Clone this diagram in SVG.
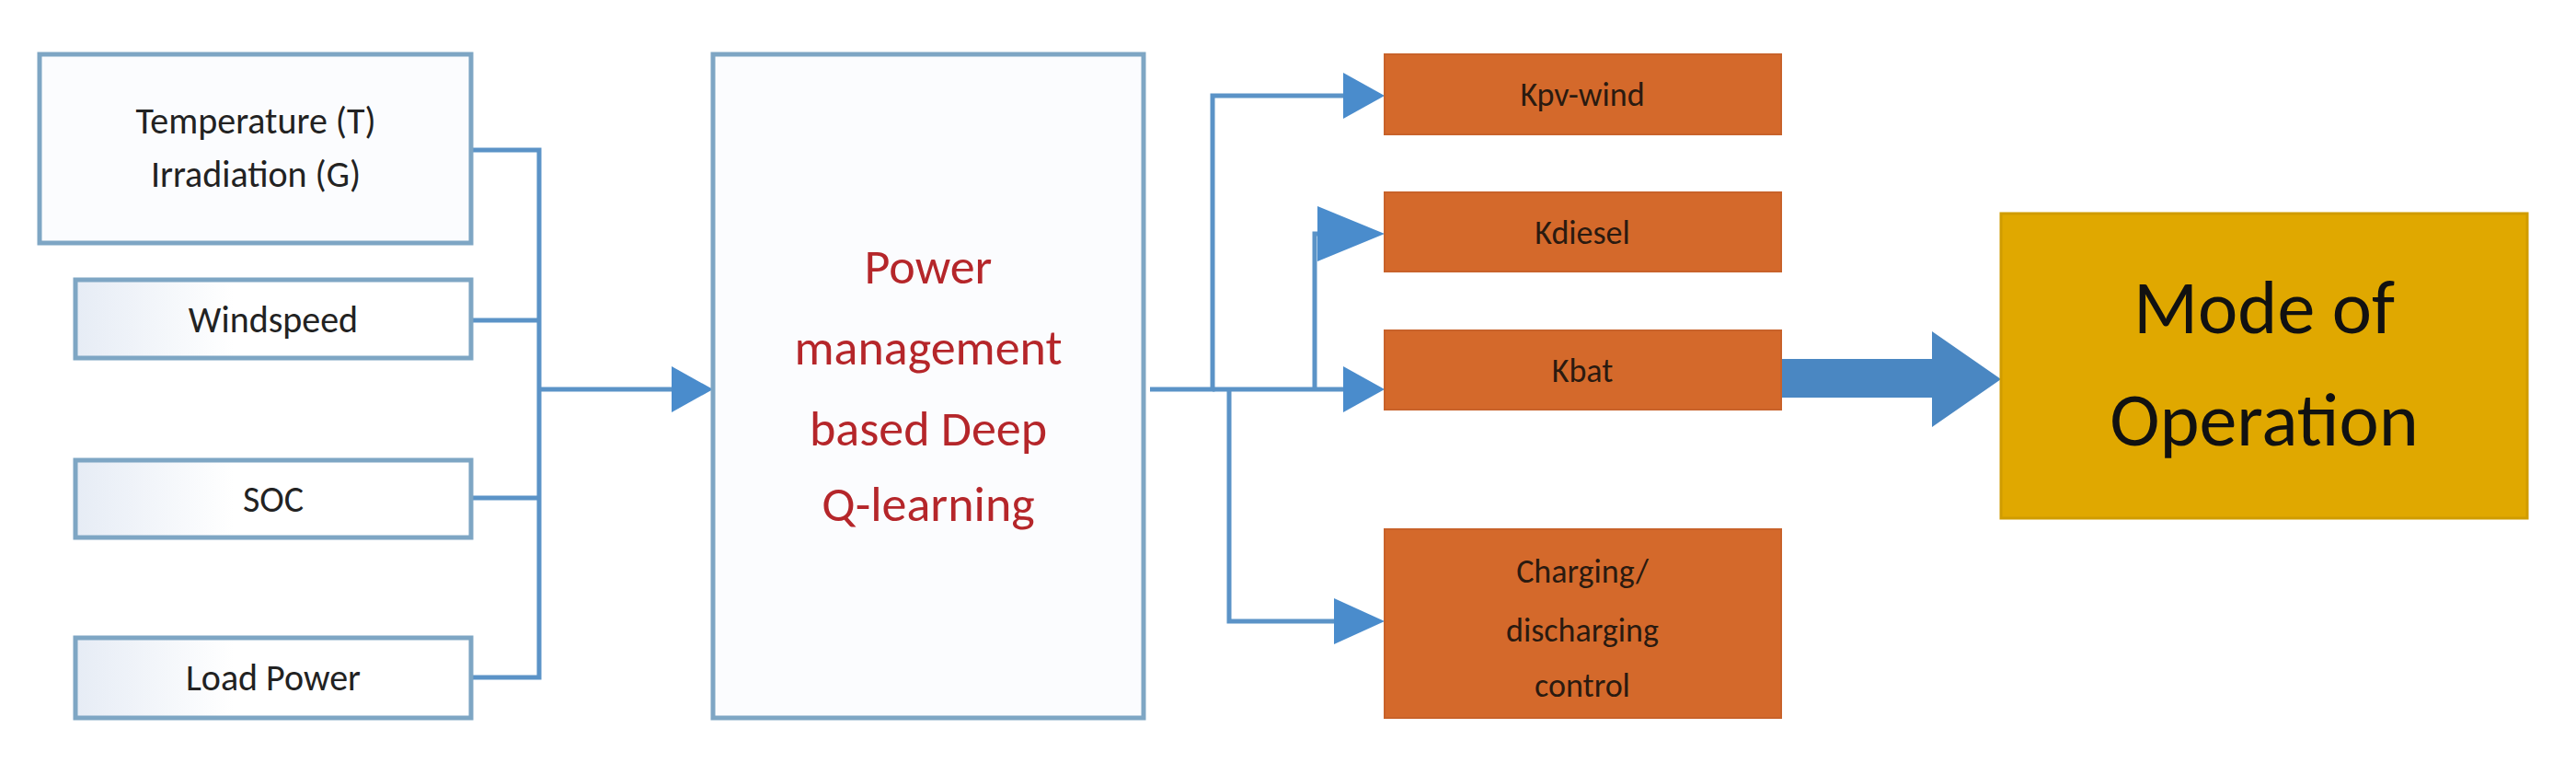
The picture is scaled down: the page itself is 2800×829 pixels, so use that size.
<svg xmlns="http://www.w3.org/2000/svg" width="2800" height="829" viewBox="0 0 2800 829">
<style>
.in{fill:#fbfcfe;stroke:#7ea6c4;stroke-width:5}
.or{fill:#d4692b;stroke:#c8622a;stroke-width:2}
.c{fill:none;stroke:#5b93c7;stroke-width:5}
text{font-family:Calibri,"Liberation Sans",sans-serif;text-anchor:middle}
.t{font-size:40px;fill:#222}
.o{font-size:36px;fill:#2a1a10}
</style>
<defs>
<marker id="a" markerWidth="14" markerHeight="14" refX="12" refY="7" orient="auto" markerUnits="userSpaceOnUse" viewBox="0 0 14 14"><path d="M0,0L14,7L0,14z" fill="#4a8ccc"/></marker>
<linearGradient id="g" x1="0" x2="1"><stop offset="0" stop-color="#e6ecf5"/><stop offset="0.4" stop-color="#fff"/></linearGradient>
</defs>
<rect width="2800" height="829" fill="#fff"/>
<g id="connectors">
<path class="c" d="M512,163H586V736H512M512,348H586M512,541H586"/>
<path d="M586,423H730" stroke="#5b93c7" stroke-width="5"/>
<path d="M730,398L775,423L730,448z" fill="#4a8ccc"/>
<path class="c" d="M1250,423H1318V104H1460"/>
<path d="M1460,79L1505,104L1460,129z" fill="#4a8ccc"/>
<path class="c" d="M1318,423H1460"/>
<path d="M1460,398L1505,423L1460,448z" fill="#4a8ccc"/>
<path class="c" d="M1429,423V254H1460"/>
<path d="M1432,224L1505,254L1432,284z" fill="#4a8ccc"/>
<path class="c" d="M1336,423V675H1460"/>
<path d="M1450,650L1505,675L1450,700z" fill="#4a8ccc"/>
<path d="M1936,390H2100V360L2175,412L2100,464V432H1936z" fill="#4a87c2"/>
</g>
<g id="temp"><rect class="in" x="43" y="59" width="469" height="205" fill="url(#g)"/><text class="t" x="278" y="145">Temperature (T)</text><text class="t" x="278" y="203">Irradiation (G)</text></g>
<g id="wind"><rect class="in" x="82" y="304" width="430" height="85" style="fill:url(#g)"/><text class="t" x="297" y="361">Windspeed</text></g>
<g id="soc"><rect class="in" x="82" y="500" width="430" height="84" style="fill:url(#g)"/><text class="t" x="297" y="556">SOC</text></g>
<g id="load"><rect class="in" x="82" y="693" width="430" height="87" style="fill:url(#g)"/><text class="t" x="297" y="750">Load Power</text></g>
<g id="pm"><rect class="in" x="775" y="59" width="468" height="721"/>
<text style="font-size:54px;fill:#b5262a"><tspan x="1009" y="308">Power</tspan><tspan x="1009" y="396">management</tspan><tspan x="1009" y="484">based Deep</tspan><tspan x="1009" y="566">Q-learning</tspan></text></g>
<g id="kpv"><rect class="or" x="1505" y="59" width="431" height="87"/><text class="o" x="1720" y="115">Kpv-wind</text></g>
<g id="kdiesel"><rect class="or" x="1505" y="209" width="431" height="86"/><text class="o" x="1720" y="265">Kdiesel</text></g>
<g id="kbat"><rect class="or" x="1505" y="359" width="431" height="86"/><text class="o" x="1720" y="415">Kbat</text></g>
<g id="charge"><rect class="or" x="1505" y="575" width="431" height="205"/><text class="o"><tspan x="1720" y="633">Charging/</tspan><tspan x="1720" y="697">discharging</tspan><tspan x="1720" y="757">control</tspan></text></g>
<g id="mode"><rect x="2175" y="232" width="572" height="331" fill="#e0a800" stroke="#d09c00" stroke-width="3"/><text style="font-size:82px;fill:#111"><tspan x="2461" y="362">Mode of</tspan><tspan x="2461" y="484">Operation</tspan></text></g>
</svg>
